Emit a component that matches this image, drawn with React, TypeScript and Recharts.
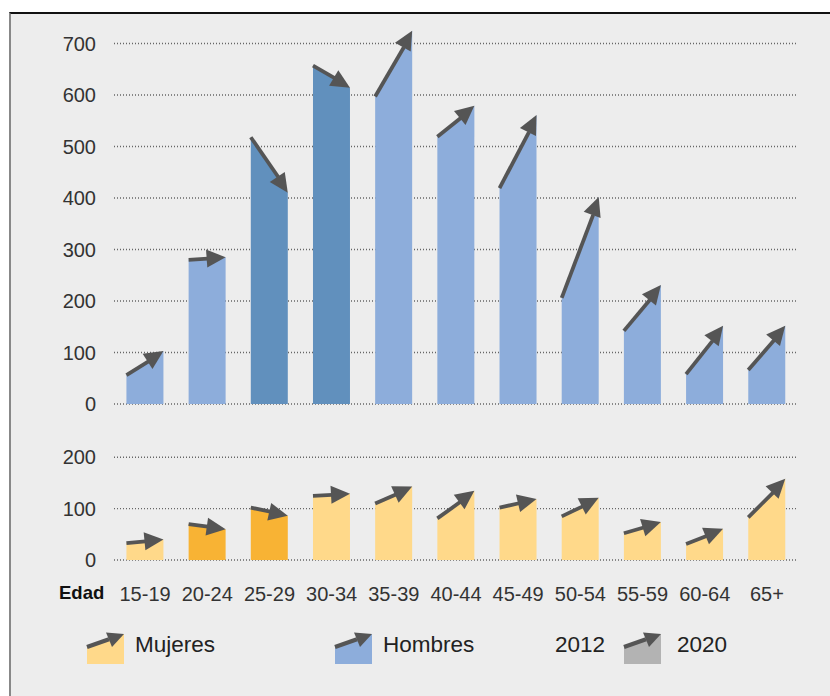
import React from 'react'
import { Bar, BarChart, CartesianGrid, XAxis, YAxis } from 'recharts'

const ages = ['15-19', '20-24', '25-29', '30-34', '35-39', '40-44', '45-49', '50-54', '55-59', '60-64', '65+']
const hombres2012 = [56, 280, 518, 657, 597, 519, 419, 206, 142, 58, 66]
const hombres2020 = [103, 285, 410, 614, 725, 579, 561, 402, 231, 152, 152]
const mujeres2012 = [33, 70, 102, 125, 110, 81, 102, 85, 52, 31, 83]
const mujeres2020 = [40, 60, 86, 129, 143, 135, 119, 121, 74, 61, 158]
const hombresTicks = [0, 100, 200, 300, 400, 500, 600, 700]
const mujeresTicks = [0, 100, 200]

const FONT = '"Liberation Sans", Arial, sans-serif'
const ARROW = '#555555'

const hombresData = ages.map((age, i) => ({ age, from: hombres2012[i], to: hombres2020[i] }))
const mujeresData = ages.map((age, i) => ({ age, from: mujeres2012[i], to: mujeres2020[i] }))

function arrowHead(x1: number, y1: number, x2: number, y2: number, len: number, half: number) {
	const dx = x2 - x1
	const dy = y2 - y1
	const d = Math.sqrt(dx * dx + dy * dy) || 1
	const ux = dx / d
	const uy = dy / d
	const bx = x2 - ux * len
	const by = y2 - uy * len
	return {
		points: `${x2},${y2} ${bx - uy * half},${by + ux * half} ${bx + uy * half},${by - ux * half}`,
		bx,
		by
	}
}

// trapezoid bar: left edge = 2012, right edge = 2020, arrow on top
function makeShape(up: string, down: string) {
	return (props: any) => {
		const { x, y, width, height, payload } = props
		const base = y + height
		const k = height / payload.from
		const y1 = base - payload.from * k
		const y2 = base - payload.to * k
		const fill = payload.to < payload.from ? down : up
		const head = arrowHead(x, y1, x + width, y2, 19, 9)
		return (
			<g>
				<polygon
					points={`${x},${base} ${x},${y1} ${x + width},${y2} ${x + width},${base}`}
					fill={fill}
				/>
				<line x1={x} y1={y1} x2={head.bx + 1} y2={head.by} stroke={ARROW} strokeWidth={3.8} />
				<polygon points={head.points} fill={ARROW} />
			</g>
		)
	}
}

function LegendIcon({ fill }: { fill: string }) {
	return (
		<svg width={38} height={31} style={{ display: 'block', overflow: 'visible' }}>
			<polygon points="0,31 0,14 37,1 37,31" fill={fill} />
			<line x1={0} y1={14} x2={22} y2={6.3} stroke={ARROW} strokeWidth={4.2} />
			<polygon points="37,1 19,-0.5 25,14" fill={ARROW} />
		</svg>
	)
}

const tickStyle = { fontSize: 20, fill: '#333', fontFamily: FONT }
const legendText: React.CSSProperties = {
	position: 'absolute',
	top: 631,
	fontSize: 22.5,
	fontFamily: FONT,
	color: '#222',
	lineHeight: '28px'
}

export default function App() {
	return (
		<div style={{ position: 'absolute', left: 0, top: 0, width: 830, height: 696, background: '#fff', overflow: 'hidden' }}>
			<div
				style={{
					position: 'absolute',
					left: 9,
					top: 12,
					width: 821,
					height: 684,
					background: '#EDEDED',
					borderTop: '2px solid #111',
					borderLeft: '2px solid #888',
					boxSizing: 'border-box'
				}}
			/>

			<div style={{ position: 'absolute', left: 0, top: 0 }}>
				<BarChart
					width={830}
					height={420}
					data={hombresData}
					margin={{ top: 43.5, right: 32, bottom: 16, left: 54 }}
					barCategoryGap="20%"
				>
					<CartesianGrid vertical={false} stroke="#666" strokeWidth={1.4} strokeDasharray="1 2" />
					<XAxis dataKey="age" hide />
					<YAxis
						width={60}
						domain={[0, 700]}
						ticks={hombresTicks}
						axisLine={false}
						tickLine={false}
						tickSize={0}
						tickMargin={18}
						tick={tickStyle}
						interval={0}
					/>
					<Bar dataKey="from" shape={makeShape('#8DADDB', '#6190BD')} isAnimationActive={false} />
				</BarChart>
			</div>

			<div style={{ position: 'absolute', left: 0, top: 420 }}>
				<BarChart
					width={830}
					height={190}
					data={mujeresData}
					margin={{ top: 37.3, right: 32, bottom: 0, left: 54 }}
					barCategoryGap="20%"
				>
					<CartesianGrid vertical={false} stroke="#666" strokeWidth={1.4} strokeDasharray="1 2" />
					<XAxis
						dataKey="age"
						height={50}
						axisLine={false}
						tickLine={false}
						tickSize={0}
						tickMargin={27}
						tick={tickStyle}
						interval={0}
					/>
					<YAxis
						width={60}
						domain={[0, 200]}
						ticks={mujeresTicks}
						axisLine={false}
						tickLine={false}
						tickSize={0}
						tickMargin={18}
						tick={tickStyle}
						interval={0}
					/>
					<Bar dataKey="from" shape={makeShape('#FFD98A', '#F8B334')} isAnimationActive={false} />
				</BarChart>
			</div>

			<div
				style={{
					position: 'absolute',
					left: 59,
					top: 581,
					fontSize: 18.5,
					fontWeight: 'bold',
					fontFamily: FONT,
					color: '#111',
					lineHeight: '24px'
				}}
			>
				Edad
			</div>

			<div style={{ position: 'absolute', left: 87, top: 633 }}>
				<LegendIcon fill="#FFD98A" />
			</div>
			<div style={{ ...legendText, left: 135 }}>Mujeres</div>
			<div style={{ position: 'absolute', left: 335, top: 633 }}>
				<LegendIcon fill="#8DADDB" />
			</div>
			<div style={{ ...legendText, left: 383 }}>Hombres</div>
			<div style={{ ...legendText, left: 555 }}>2012</div>
			<div style={{ position: 'absolute', left: 624, top: 633 }}>
				<LegendIcon fill="#B3B3B3" />
			</div>
			<div style={{ ...legendText, left: 677 }}>2020</div>
		</div>
	)
}
